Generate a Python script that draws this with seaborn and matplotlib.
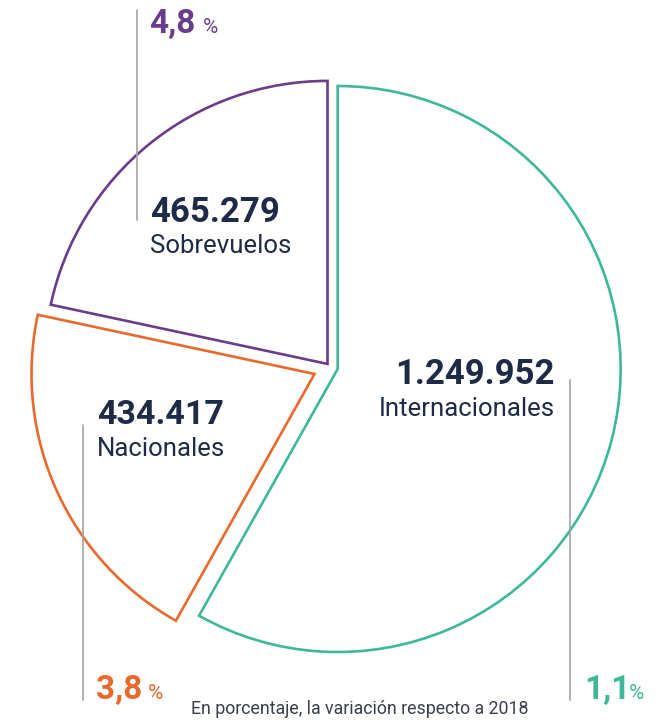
import matplotlib.pyplot as plt
import seaborn as sns

# Operaciones por tipo de vuelo
categorias = ["Internacionales", "Nacionales", "Sobrevuelos"]
valores = [1249952, 434417, 465279]
etiquetas_valor = ["1.249.952", "434.417", "465.279"]
variacion = ["1,1", "3,8", "4,8"]
colores = ["#3db89b", "#e9692c", "#6a3d8a"]
separacion = [0.028, 0.06, 0.014]

NAVY = "#1e2b47"
GRIS = "#a3a3a3"

sns.set_theme(style="white")
plt.rcParams['font.family'] = ['Roboto', 'DejaVu Sans']

fig = plt.figure(figsize=(6.61, 7.2), dpi=100)

# pie axes: centre at (330, 367) px, radius 283 px
cx, cy, r = 330, 367, 283
ax = fig.add_axes([0, 0, 1, 1])
wedges, _ = ax.pie(valores, startangle=90, counterclock=False,
                   explode=separacion, colors=["white"] * 3,
                   wedgeprops=dict(linewidth=1.9, joinstyle="miter"))
for w, c in zip(wedges, colores):
    w.set_edgecolor(c)
ax.set_aspect("auto")
ax.set_xlim(-cx / r, (661 - cx) / r)
ax.set_ylim(-(720 - cy) / r, cy / r)
ax.axis("off")

# overlay in pixel coordinates for labels
ov = fig.add_axes([0, 0, 1, 1], facecolor="none")
ov.set_xlim(0, 661)
ov.set_ylim(720, 0)
ov.axis("off")

# guide lines
ov.plot([137, 137], [10, 220], color=GRIS, lw=1.2)
ov.plot([570, 570], [380, 700], color=GRIS, lw=1.2)
ov.plot([83, 83], [425, 700], color=GRIS, lw=1.2)

# Sobrevuelos
ov.text(150, 222, etiquetas_valor[2], fontsize=25, fontweight="bold", color=NAVY)
ov.text(150, 253, categorias[2], fontsize=18.5, color=NAVY)
ov.text(149, 33, variacion[2], fontsize=24, fontweight="bold", color=colores[2])
ov.text(203, 33, "%", fontsize=15, color=colores[2])

# Internacionales
ov.text(555, 384, etiquetas_valor[0], fontsize=25, fontweight="bold", color=NAVY, ha="right")
ov.text(555, 416, categorias[0], fontsize=18.5, color=NAVY, ha="right")
ov.text(584, 699, variacion[0], fontsize=24, fontweight="bold", color=colores[0])
ov.text(629, 699, "%", fontsize=15, color=colores[0])

# Nacionales
ov.text(97, 424, etiquetas_valor[1], fontsize=24.5, fontweight="bold", color=NAVY)
ov.text(97, 456, categorias[1], fontsize=18.5, color=NAVY)
ov.text(96, 699, variacion[1], fontsize=24, fontweight="bold", color=colores[1])
ov.text(148, 699, "%", fontsize=15, color=colores[1])

ov.text(360, 714, "En porcentaje, la variación respecto a 2018", fontsize=12.8,
        color="#3a3f4b", ha="center")

fig.savefig("out.png", dpi=100)
